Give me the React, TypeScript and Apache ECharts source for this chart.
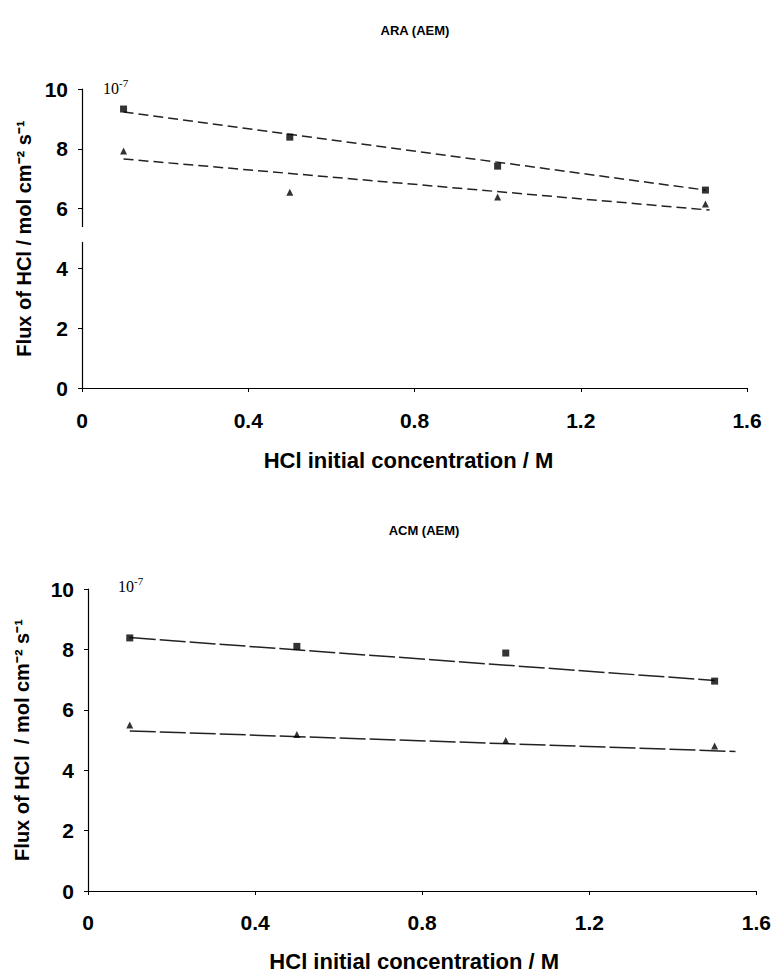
import React, { useEffect, useRef } from "react";
import * as echarts from "echarts";

// X values (HCl initial concentration / M)
const conc = [0.1, 0.5, 1.0, 1.5];

// ARA (AEM) — flux ×10^-7 mol cm^-2 s^-1
const araSquares = [9.33, 8.39, 7.42, 6.62];
const araTriangles = [7.93, 6.55, 6.39, 6.15];
// ACM (AEM)
const acmSquares = [8.38, 8.1, 7.88, 6.95];
const acmTriangles = [5.5, 5.18, 4.98, 4.8];

// Trend lines: [x, y] end points
const araSquareTrend = [[0.1, 9.23], [1.5, 6.62]];
const araTriangleTrend = [[0.1, 7.66], [1.51, 5.95]];
const acmSquareTrend = [[0.1, 8.39], [1.5, 6.97]];
const acmTriangleTrend = [[0.1, 5.3], [1.55, 4.62]];

const xTicks = { min: 0, max: 1.6, interval: 0.4 };
const yTicks = { min: 0, max: 10, interval: 2 };

const titles = ["ARA (AEM)", "ACM (AEM)"];
const xName = "HCl initial concentration / M";
const yNames = ["Flux of HCl / mol cm\u207B\u00B2 s\u207B\u00B9", "Flux of HCl  / mol cm\u207B\u00B2 s\u207B\u00B9"];

const FONT = "'Liberation Sans', Arial, sans-serif";

export default function App() {
  const ref = useRef<HTMLDivElement>(null);
  useEffect(() => {
    if (!ref.current) return;
    const chart = echarts.init(ref.current, undefined, { renderer: "svg" });
    const pts = (ys: number[]) => conc.map((x, i) => [x, ys[i]]);
    const axisCommon = {
      axisLine: { show: true, lineStyle: { color: "#000", width: 1.2 } },
      axisTick: { show: true, length: 4, lineStyle: { color: "#000" } },
      splitLine: { show: false },
      axisLabel: { color: "#000", fontSize: 21, fontWeight: "bold", fontFamily: FONT },
    };
    const xAxis = (gi: number, gap: number, margin: number, shift: number) => ({
      type: "value",
      gridIndex: gi,
      ...xTicks,
      ...axisCommon,
      axisLabel: { ...axisCommon.axisLabel, margin },
      name: xName,
      nameLocation: "middle",
      nameGap: gap,
      nameTextStyle: {
        color: "#000",
        fontSize: 22,
        fontWeight: "bold",
        fontFamily: FONT,
        padding: [0, shift, 0, 0],
      },
    });
    const yAxis = (gi: number, gap: number) => ({
      type: "value",
      gridIndex: gi,
      ...yTicks,
      ...axisCommon,
      axisLabel: { ...axisCommon.axisLabel, margin: 14 },
      name: yNames[gi],
      nameLocation: "middle",
      nameRotate: 90,
      nameGap: gap,
      nameTextStyle: { color: "#000", fontSize: 20, fontWeight: "bold", fontFamily: FONT },
    });
    const scatter = (gi: number, data: number[][], symbol: string) => ({
      type: "scatter",
      xAxisIndex: gi,
      yAxisIndex: gi,
      data,
      symbol,
      symbolSize: 7,
      itemStyle: { color: "#000" },
      z: 3,
    });
    const trend = (gi: number, data: number[][], dash: number[]) => ({
      type: "line",
      xAxisIndex: gi,
      yAxisIndex: gi,
      data,
      symbol: "none",
      lineStyle: { color: "#222", width: 1.5, type: dash },
      z: 2,
    });
    const exp = (x: number, y: number) => ({
      type: "text",
      x,
      y,
      style: {
        text: "{b|10}{s|-7}",
        rich: {
          b: { fontFamily: "'Liberation Serif', serif", fontSize: 16, fill: "#000", verticalAlign: "bottom" },
          s: { fontFamily: "'Liberation Serif', serif", fontSize: 11, fill: "#000", verticalAlign: "top", padding: [0, 0, 8, 0] },
        },
      },
    });
    chart.setOption({
      animation: false,
      backgroundColor: "#fff",
      grid: [
        { left: 82, top: 89, width: 665, height: 299 },
        { left: 88, top: 589, width: 669, height: 304 },
      ],
      xAxis: [xAxis(0, 61, 22, 12), xAxis(1, 59, 21, 16)],
      yAxis: [yAxis(0, 47), yAxis(1, 56)],
      series: [
        trend(0, araSquareTrend, [10, 5]),
        trend(0, araTriangleTrend, [10, 5]),
        scatter(0, pts(araSquares), "rect"),
        scatter(0, pts(araTriangles), "triangle"),
        trend(1, acmSquareTrend, [26, 4]),
        trend(1, acmTriangleTrend, [26, 4]),
        scatter(1, pts(acmSquares), "rect"),
        scatter(1, pts(acmTriangles), "triangle"),
      ],
      graphic: [
        {
          type: "text",
          x: 415,
          y: 30,
          style: { text: titles[0], textAlign: "center", textVerticalAlign: "middle", font: `bold 13px ${FONT}`, fill: "#000" },
        },
        {
          type: "text",
          x: 424,
          y: 530,
          style: { text: titles[1], textAlign: "center", textVerticalAlign: "middle", font: `bold 13px ${FONT}`, fill: "#000" },
        },
        exp(103, 77),
        exp(118, 575),
        // small break in the top y-axis, as in the scan
        { type: "rect", shape: { x: 79, y: 227, width: 6, height: 15 }, style: { fill: "#fff" }, z: 100 },
      ],
    });
    return () => chart.dispose();
  }, []);
  return (
    <div
      ref={ref}
      style={{ position: "absolute", left: 0, top: 0, width: 774, height: 973, background: "#fff" }}
    />
  );
}
